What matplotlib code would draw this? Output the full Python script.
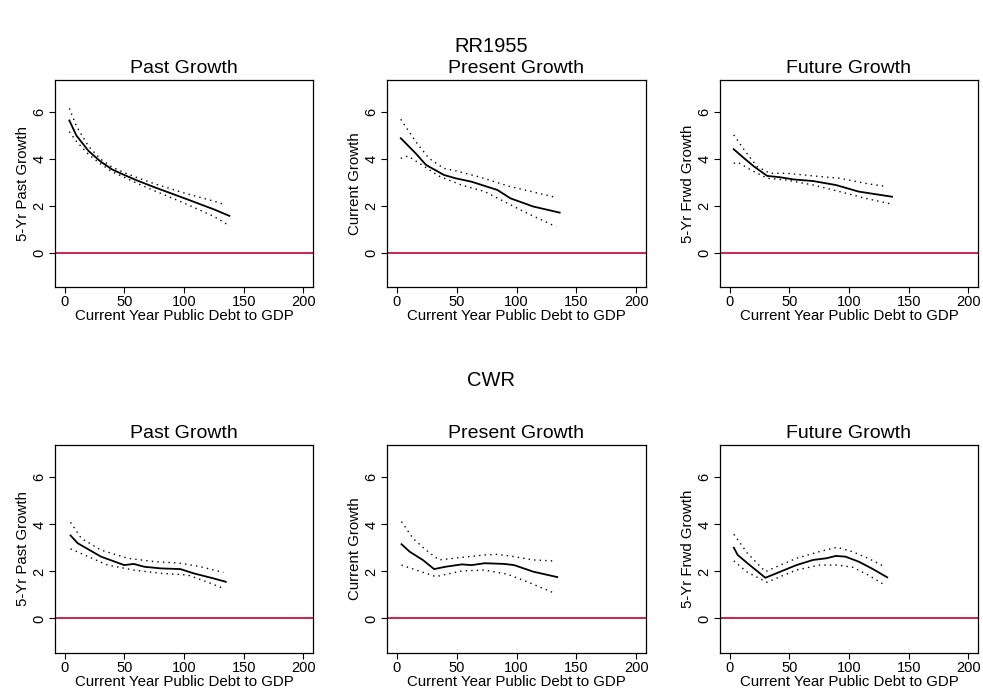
import matplotlib
matplotlib.use("Agg")
import matplotlib.pyplot as plt

plt.rcParams['font.family'] = ['Liberation Sans', 'DejaVu Sans']

# ---- RR1955 : Past growth ----
rr_past_x = [4, 10, 20, 30, 40, 50, 60, 75, 100, 125, 138]
rr_past_y = [5.65, 5.0, 4.35, 3.9, 3.55, 3.32, 3.1, 2.8, 2.33, 1.85, 1.57]
rr_past_ux = [4, 10, 20, 30, 40, 50, 60, 75, 100, 125, 135]
rr_past_uy = [6.17, 5.4, 4.55, 4.0, 3.65, 3.42, 3.22, 2.95, 2.55, 2.2, 2.04]
rr_past_lx = [4, 10, 20, 30, 40, 50, 60, 75, 100, 125, 137]
rr_past_ly = [5.17, 4.75, 4.2, 3.8, 3.45, 3.22, 2.98, 2.65, 2.12, 1.55, 1.18]

# ---- RR1955 : Present growth ----
rr_pres_x = [3.5, 16, 24.5, 39.5, 49, 62.6, 84, 95, 114, 136]
rr_pres_y = [4.89, 4.24, 3.75, 3.32, 3.18, 3.03, 2.68, 2.32, 1.97, 1.71]
rr_pres_ux = [3.5, 16, 27, 39.5, 49, 68, 95, 133]
rr_pres_uy = [5.70, 4.74, 4.03, 3.6, 3.5, 3.25, 2.82, 2.36]
rr_pres_lx = [3.5, 9.5, 19, 35, 54, 73.5, 92.5, 109, 133]
rr_pres_ly = [4.03, 4.13, 3.82, 3.28, 2.89, 2.61, 2.11, 1.68, 1.11]

# ---- RR1955 : Future growth ----
rr_fut_x = [3.5, 12.3, 20.5, 31.5, 42.5, 53.4, 70, 89, 108, 136]
rr_fut_y = [4.42, 4.03, 3.68, 3.28, 3.22, 3.13, 3.06, 2.89, 2.61, 2.39]
rr_fut_ux = [3.5, 12.3, 23, 34, 48, 70, 92, 114, 132]
rr_fut_uy = [5.03, 4.39, 3.68, 3.39, 3.39, 3.28, 3.18, 2.96, 2.82]
rr_fut_lx = [3.5, 7, 18, 31.5, 48, 70, 92, 114, 136]
rr_fut_ly = [3.82, 3.86, 3.53, 3.18, 3.1, 2.89, 2.61, 2.32, 2.07]

# ---- CWR : Past growth ----
cwr_past_x = [5, 11, 30.5, 50, 58, 66.7, 80.5, 97, 108, 125, 135]
cwr_past_y = [3.53, 3.2, 2.63, 2.27, 2.32, 2.2, 2.13, 2.1, 1.92, 1.7, 1.56]
cwr_past_ux = [5, 14, 30.5, 53, 75, 97, 114, 133]
cwr_past_uy = [4.09, 3.41, 2.91, 2.56, 2.42, 2.35, 2.2, 1.96]
cwr_past_lx = [5, 16.7, 36, 58, 80.5, 103, 119, 133]
cwr_past_ly = [2.96, 2.7, 2.27, 2.06, 1.92, 1.85, 1.56, 1.28]

# ---- CWR : Present growth ----
cwr_pres_x = [4.1, 10.9, 21.8, 31.3, 40.8, 54.4, 62.6, 73.5, 89.8, 98, 114, 134]
cwr_pres_y = [3.16, 2.84, 2.49, 2.1, 2.2, 2.3, 2.27, 2.35, 2.32, 2.27, 1.99, 1.76]
cwr_pres_ux = [4.1, 13.6, 24.5, 35.4, 54.4, 73.5, 84, 98, 114, 130]
cwr_pres_uy = [4.12, 3.41, 2.91, 2.49, 2.6, 2.7, 2.73, 2.63, 2.49, 2.45]
cwr_pres_lx = [4.1, 16.3, 32.7, 54.4, 73.5, 92.5, 109, 132]
cwr_pres_ly = [2.27, 2.06, 1.78, 2.02, 2.06, 1.88, 1.56, 1.07]

# ---- CWR : Future growth ----
cwr_fut_x = [3.6, 6.8, 15, 30, 42.5, 56, 70, 81, 89, 97, 108, 119, 132]
cwr_fut_y = [3.01, 2.7, 2.35, 1.73, 1.99, 2.27, 2.49, 2.56, 2.66, 2.63, 2.42, 2.13, 1.75]
cwr_fut_ux = [3.6, 15, 30, 42.5, 56, 75, 90, 103, 116, 130]
cwr_fut_uy = [3.58, 2.77, 1.99, 2.27, 2.56, 2.84, 3.03, 2.84, 2.56, 2.2]
cwr_fut_lx = [3.6, 15, 31.5, 42.5, 56, 75, 90, 103, 116, 130]
cwr_fut_ly = [2.45, 1.96, 1.54, 1.78, 2.06, 2.27, 2.27, 2.18, 1.85, 1.42]

titles = ["Past Growth", "Present Growth", "Future Growth"]
ylabels = ["5-Yr Past Growth", "Current Growth", "5-Yr Frwd Growth"]
xlabel = "Current Year Public Debt to GDP"
x_ticks = [0, 50, 100, 150, 200]
y_ticks = [0, 2, 4, 6]

rows = [
    [(rr_past_x, rr_past_y, rr_past_ux, rr_past_uy, rr_past_lx, rr_past_ly),
     (rr_pres_x, rr_pres_y, rr_pres_ux, rr_pres_uy, rr_pres_lx, rr_pres_ly),
     (rr_fut_x, rr_fut_y, rr_fut_ux, rr_fut_uy, rr_fut_lx, rr_fut_ly)],
    [(cwr_past_x, cwr_past_y, cwr_past_ux, cwr_past_uy, cwr_past_lx, cwr_past_ly),
     (cwr_pres_x, cwr_pres_y, cwr_pres_ux, cwr_pres_uy, cwr_pres_lx, cwr_pres_ly),
     (cwr_fut_x, cwr_fut_y, cwr_fut_ux, cwr_fut_uy, cwr_fut_lx, cwr_fut_ly)],
]

W, H = 983, 696
fig = plt.figure(figsize=(W / 100, H / 100), dpi=100)

col_px = [(55, 313), (387, 646), (720, 978)]
row_px = [(80, 287), (445, 653)]

for r, (top, bot) in enumerate(row_px):
    for c, (left, right) in enumerate(col_px):
        ax = fig.add_axes([left / W, 1 - bot / H, (right - left) / W, (bot - top) / H])
        x, y, ux, uy, lx, ly = rows[r][c]
        ax.axhline(0, color="#C8123F", lw=1.3)
        ax.plot(x, y, color="black", lw=1.3)
        ax.plot(ux, uy, color="black", lw=1.0, linestyle=(0, (1, 3)))
        ax.plot(lx, ly, color="black", lw=1.0, linestyle=(0, (1, 3)))
        ax.set_xlim(-8, 208)
        ax.set_ylim(-1.47, 7.38)
        ax.set_xticks(x_ticks)
        ax.set_yticks(y_ticks)
        ax.tick_params(direction="out", length=4, width=0.8, labelsize=10.5, pad=2)
        ax.tick_params(axis="y", labelrotation=90)
        for lab in ax.get_yticklabels():
            lab.set_va("center")
        for s in ax.spines.values():
            s.set_linewidth(0.9)
        ax.set_title(titles[c], fontsize=14, pad=5)
        ax.set_xlabel(xlabel, fontsize=10.8, labelpad=0)
        ax.set_ylabel(ylabels[c], fontsize=10.8, labelpad=2)

fig.text(491 / W, 1 - 47 / H, "RR1955", ha="center", va="center", fontsize=14.5)
fig.text(491 / W, 1 - 381 / H, "CWR", ha="center", va="center", fontsize=14.5)

fig.savefig("out.png", dpi=100)
